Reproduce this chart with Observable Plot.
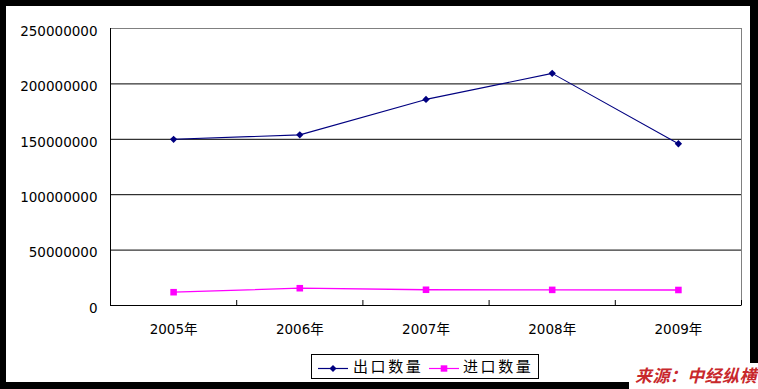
<!DOCTYPE html>
<html>
<head>
<meta charset="utf-8">
<script src="https://cdn.jsdelivr.net/npm/d3@7"></script>
<script src="https://cdn.jsdelivr.net/npm/@observablehq/plot@0.6"></script>
<style>
  html, body { margin: 0; padding: 0; background: #fff; }
  #wrap { position: relative; width: 758px; height: 389px; background: #000; overflow: hidden; }
  #inner { position: absolute; left: 6px; top: 6px; width: 744px; height: 376px; background: #fff; }
  #chart { position: absolute; left: 0; top: 0; }
  #legend { position: absolute; left: 311px; top: 354px; width: 228px; height: 25px; box-sizing: border-box;
            border: 1px solid #000; background: #fff; font-family: "Noto Sans CJK SC", sans-serif; font-size: 15px; }
  .lg-sw { position: absolute; top: 0; }
  .lg-tx { position: absolute; top: 2px; letter-spacing: 2.6px; color: #000; line-height: 18px; white-space: nowrap; }
  #source { position: absolute; left: 629px; top: 363px; width: 129px; height: 26px; background: #fff;
            color: #c8282c; font-family: "Noto Sans CJK SC", sans-serif; font-weight: bold; font-style: italic;
            font-size: 17px; line-height: 24px; padding-left: 6px; box-sizing: border-box; white-space: nowrap; letter-spacing: 0.4px; }
</style>
</head>
<body>
<div id="wrap">
  <div id="inner"></div>
  <div id="chart"></div>
  <div id="legend"></div>
  <div id="source">来源：中经纵横</div>
</div>
<script>
// ---- data ----
const years = [2005, 2006, 2007, 2008, 2009];
const yearLabels = ["2005年", "2006年", "2007年", "2008年", "2009年"];
const exportQty = [150000000, 154000000, 186000000, 209500000, 146000000];
const importQty = [12000000, 15600000, 14200000, 14100000, 14000000];
const yTicks = [0, 50000000, 100000000, 150000000, 200000000, 250000000];
const seriesNames = ["出口数量", "进口数量"];
const seriesColors = ["#000080", "#ff00ff"];

const rows = [];
years.forEach((yr, i) => {
  rows.push({year: yr, series: seriesNames[0], value: exportQty[i]});
  rows.push({year: yr, series: seriesNames[1], value: importQty[i]});
});
const exportRows = rows.filter(d => d.series === seriesNames[0]);
const importRows = rows.filter(d => d.series === seriesNames[1]);
const bounds = years.map(y => y - 0.5).concat([years[years.length - 1] + 0.5]);
const yMax = yTicks[yTicks.length - 1];
const labelOf = new Map(years.map((y, i) => [y, yearLabels[i]]));

const chart = Plot.plot({
  width: 758,
  height: 389,
  marginLeft: 110,
  marginTop: 28,
  marginRight: 17,
  marginBottom: 84,
  style: "background: transparent; font: 13.5px 'DejaVu Sans', 'Noto Sans CJK SC', sans-serif; color: #000;",
  x: {domain: [bounds[0], bounds[bounds.length - 1]]},
  y: {domain: [0, yMax]},
  marks: [
    Plot.frame({stroke: "#808080"}),
    Plot.ruleY(yTicks.filter(v => v > 0 && v < yMax), {stroke: "#000", strokeWidth: 1}),
    Plot.ruleY([0], {stroke: "#000"}),
    Plot.ruleX([bounds[0]], {stroke: "#000"}),
    Plot.ruleX(bounds, {x: d => d, y1: 0, y2: yMax * 0.018, stroke: "#000"}),
    Plot.axisY({ticks: yTicks, tickFormat: d => String(d), tickSize: 0, tickPadding: 13, dy: 3, label: null}),
    Plot.axisX({ticks: years, tickFormat: d => labelOf.get(d), tickSize: 0, tickPadding: 19, label: null}),
    Plot.line(exportRows, {x: "year", y: "value", stroke: seriesColors[0], strokeWidth: 1.1}),
    Plot.dot(exportRows, {x: "year", y: "value", symbol: "diamond2", r: 3.3, fill: seriesColors[0], stroke: "none"}),
    Plot.line(importRows, {x: "year", y: "value", stroke: seriesColors[1], strokeWidth: 1.3}),
    Plot.dot(importRows, {x: "year", y: "value", symbol: "square", r: 3.7, fill: seriesColors[1], stroke: "none"})
  ]
});
document.getElementById("chart").appendChild(chart);

// ---- legend ----
const legend = document.getElementById("legend");
const items = [
  {name: seriesNames[0], color: seriesColors[0], sym: "diamond", swLeft: 6, txLeft: 41},
  {name: seriesNames[1], color: seriesColors[1], sym: "square", swLeft: 117, txLeft: 151}
];
items.forEach(it => {
  const ns = "http://www.w3.org/2000/svg";
  const svg = document.createElementNS(ns, "svg");
  svg.setAttribute("width", 32);
  svg.setAttribute("height", 23);
  svg.setAttribute("class", "lg-sw");
  svg.style.left = it.swLeft + "px";
  const ln = document.createElementNS(ns, "line");
  ln.setAttribute("x1", 0); ln.setAttribute("x2", 30);
  ln.setAttribute("y1", 13.5); ln.setAttribute("y2", 13.5);
  ln.setAttribute("stroke", it.color); ln.setAttribute("stroke-width", 1.2);
  svg.appendChild(ln);
  const mk = document.createElementNS(ns, "path");
  if (it.sym === "diamond") mk.setAttribute("d", "M15,10 L18.5,13.5 L15,17 L11.5,13.5 Z");
  else mk.setAttribute("d", "M11.7,10.3 H18.3 V16.7 H11.7 Z");
  mk.setAttribute("fill", it.color);
  svg.appendChild(mk);
  legend.appendChild(svg);
  const tx = document.createElement("div");
  tx.className = "lg-tx";
  tx.style.left = it.txLeft + "px";
  tx.textContent = it.name;
  legend.appendChild(tx);
});
</script>
</body>
</html>
